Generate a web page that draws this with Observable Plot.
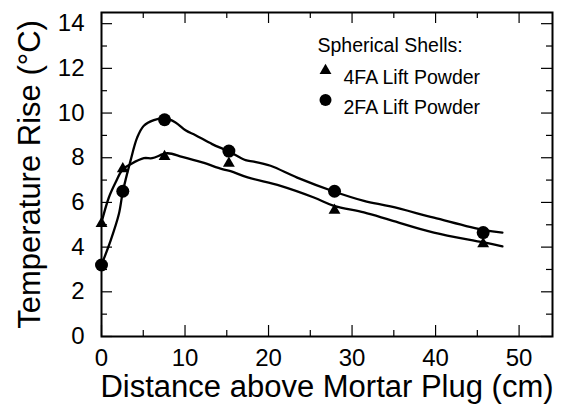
<!DOCTYPE html>
<html>
<head>
<meta charset="utf-8">
<script src="https://cdn.jsdelivr.net/npm/d3@7"></script>
<script src="https://cdn.jsdelivr.net/npm/@observablehq/plot@0.6"></script>
<style>
  body { margin: 0; background: #fff; }
  #chart { width: 564px; height: 416px; }
</style>
</head>
<body>
<div id="chart"></div>
<script>
// Measured temperature rise at each distance above the mortar plug
const pointDistance = [0, 2.55, 7.55, 15.25, 27.9, 45.7];
const rise4FA = [5.05, 7.5, 8.05, 7.75, 5.65, 4.15];
const rise2FA = [3.2, 6.5, 9.7, 8.3, 6.5, 4.65];

// Fitted curves through each series
const fit4FAx = [0, 0.88, 1.68, 2.56, 3.47, 5.07, 6.07, 7.87, 9.66, 12.06, 14.45, 15.45, 17.5, 21.44, 25.43, 27.82, 31.42, 34.6, 39.8, 45.8, 48.0];
const fit4FAy = [5.1, 6.22, 6.89, 7.49, 7.71, 7.98, 7.98, 8.2, 8.04, 7.79, 7.49, 7.4, 7.12, 6.74, 6.22, 5.85, 5.55, 5.21, 4.65, 4.21, 4.03];
const fit2FAx = [0, 1.08, 2.08, 2.56, 3.47, 4.27, 5.07, 6.27, 7.54, 8.86, 10.06, 11.26, 13.25, 15.25, 17.25, 18.24, 20.24, 23.43, 27.82, 31.42, 34.6, 39.8, 45.8, 48.0];
const fit2FAy = [3.21, 4.28, 5.48, 6.49, 7.86, 8.9, 9.43, 9.68, 9.77, 9.58, 9.23, 9.01, 8.61, 8.28, 7.89, 7.83, 7.64, 7.11, 6.49, 6.07, 5.82, 5.32, 4.76, 4.65];

// Axis ticks
const xMajor = [0, 10, 20, 30, 40, 50];
const xMinor = [5, 15, 25, 35, 45];
const yMajor = [0, 2, 4, 6, 8, 10, 12, 14];
const yMinor = [1, 3, 5, 7, 9, 11, 13];

// Text
const xTitle = "Distance above Mortar Plug (cm)";
const yTitle = "Temperature Rise (°C)";
const legendTitle = "Spherical Shells:";
const seriesNames = ["4FA Lift Powder", "2FA Lift Powder"];
const seriesSymbols = ["triangle", "circle"];

const W = 564, H = 416;
const mL = 101, mR = 12, mT = 12, mB = 80;
const innerW = W - mL - mR, innerH = H - mT - mB;
const FONT = "'Liberation Sans', Arial, Helvetica, sans-serif";

const zip = (xs, ys) => xs.map((x, i) => ({x, y: ys[i]}));
const pts4 = zip(pointDistance, rise4FA);
const pts2 = zip(pointDistance, rise2FA);
const fit4 = zip(fit4FAx, fit4FAy);
const fit2 = zip(fit2FAx, fit2FAy);

const majorLen = 11, minorLen = 6, tickW = 1.2;

const legendMarks = [
  Plot.text([legendTitle], {text: d => d, frameAnchor: "top-left", dx: 216, dy: 26, textAnchor: "start", fontSize: 19.5, fill: "black"})
];
seriesNames.forEach((name, i) => {
  const rowY = 58 + i * 29.5;
  legendMarks.push(
    Plot.dot([name], {frameAnchor: "top-left", dx: 224, dy: rowY, symbol: seriesSymbols[i], r: seriesSymbols[i] === "triangle" ? 4.4 : 6, fill: "black", stroke: "none"}),
    Plot.text([name], {text: d => d, frameAnchor: "top-left", dx: 242, dy: rowY, textAnchor: "start", fontSize: 19.5, fill: "black"})
  );
});

const chart = Plot.plot({
  width: W,
  height: H,
  marginLeft: mL,
  marginRight: mR,
  marginTop: mT,
  marginBottom: mB,
  style: {fontFamily: FONT, background: "#fff", color: "black"},
  x: {domain: [0, 54], axis: null},
  y: {domain: [0, 14.5], axis: null},
  marks: [
    // inward ticks on all four sides
    Plot.ruleX(xMajor, {x: d => d, insetTop: innerH - majorLen, strokeWidth: tickW}),
    Plot.ruleX(xMinor, {x: d => d, insetTop: innerH - minorLen, strokeWidth: tickW}),
    Plot.ruleX(xMajor, {x: d => d, insetBottom: innerH - majorLen, strokeWidth: tickW}),
    Plot.ruleX(xMinor, {x: d => d, insetBottom: innerH - minorLen, strokeWidth: tickW}),
    Plot.ruleY(yMajor, {y: d => d, insetRight: innerW - majorLen, strokeWidth: tickW}),
    Plot.ruleY(yMinor, {y: d => d, insetRight: innerW - minorLen, strokeWidth: tickW}),
    Plot.ruleY(yMajor, {y: d => d, insetLeft: innerW - majorLen, strokeWidth: tickW}),
    Plot.ruleY(yMinor, {y: d => d, insetLeft: innerW - minorLen, strokeWidth: tickW}),
    // tick labels
    Plot.axisX(xMajor, {tickSize: 0, tickPadding: 12, fontSize: 24, label: null}),
    Plot.axisY(yMajor, {tickSize: 0, tickPadding: 17, fontSize: 24, label: null}),
    // axis titles
    Plot.text([xTitle], {text: d => d, frameAnchor: "bottom", textAnchor: "middle", dy: 60, fontSize: 31, fill: "black"}),
    Plot.text([yTitle], {text: d => d, frameAnchor: "left", textAnchor: "middle", rotate: -90, dx: -71, fontSize: 31, fill: "black"}),
    // fitted curves
    Plot.line(fit4, {x: "x", y: "y", stroke: "black", strokeWidth: 2.3, curve: "catmull-rom"}),
    Plot.line(fit2, {x: "x", y: "y", stroke: "black", strokeWidth: 2.3, curve: "catmull-rom"}),
    // measured points
    Plot.dot(pts4, {x: "x", y: "y", symbol: "triangle", r: 4.4, fill: "black", stroke: "none"}),
    Plot.dot(pts2, {x: "x", y: "y", symbol: "circle", r: 6.5, fill: "black", stroke: "none"}),
    ...legendMarks,
    Plot.frame({stroke: "black", strokeWidth: 2})
  ]
});

document.getElementById("chart").appendChild(chart);
</script>
</body>
</html>
